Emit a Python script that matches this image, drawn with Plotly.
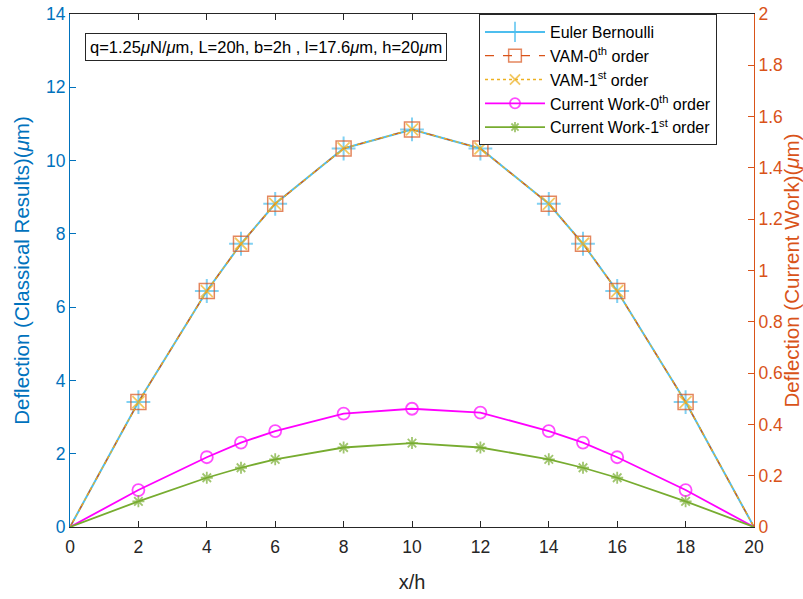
import plotly.graph_objects as go

x_h = [0, 2, 4, 5, 6, 8, 10, 12, 14, 15, 16, 18, 20]
euler = [0, 3.41, 6.44, 7.73, 8.82, 10.33, 10.85, 10.33, 8.82, 7.73, 6.44, 3.41, 0]
vam0 = [0, 3.41, 6.44, 7.73, 8.82, 10.33, 10.85, 10.33, 8.82, 7.73, 6.44, 3.41, 0]
vam1 = [0, 3.41, 6.44, 7.73, 8.82, 10.33, 10.85, 10.33, 8.82, 7.73, 6.44, 3.41, 0]
cw0 = [0, 0.144, 0.272, 0.329, 0.374, 0.442, 0.461, 0.446, 0.374, 0.329, 0.272, 0.144, 0]
cw1 = [0, 0.100, 0.192, 0.231, 0.264, 0.310, 0.327, 0.310, 0.264, 0.231, 0.192, 0.100, 0]

names = ["Euler Bernoulli", "VAM-0<sup>th</sup> order", "VAM-1<sup>st</sup> order",
         "Current Work-0<sup>th</sup> order", "Current Work-1<sup>st</sup> order"]

BLUE_L = "#4DBEEE"
ORANGE = "#D95319"
YELLOW = "#EDB120"
MAGENTA = "#FF00FF"
GREEN = "#77AC30"
AXBLUE = "#0072BD"
DARK = "#262626"
FONT = "Liberation Sans, Arial, sans-serif"


def sizes(s):
    # markers are not drawn at the two supported ends
    return [0] + [s] * (len(x_h) - 2) + [0]


fig = go.Figure()
fig.add_trace(go.Scatter(x=x_h, y=euler, name=names[0], mode="lines+markers", legendgroup="a",
                         line=dict(color=BLUE_L, width=2),
                         marker=dict(symbol="cross-thin", size=sizes(17), line=dict(color=BLUE_L, width=2))))
fig.add_trace(go.Scatter(x=x_h, y=vam0, name=names[1], mode="lines+markers", legendgroup="b",
                         line=dict(color=ORANGE, width=1.3, dash="dash"),
                         marker=dict(symbol="square-open", size=sizes(15), color=ORANGE, line=dict(width=1.5))))
fig.add_trace(go.Scatter(x=x_h, y=vam1, name=names[2], mode="lines+markers", legendgroup="c",
                         line=dict(color=YELLOW, width=1.3, dash="dot"),
                         marker=dict(symbol="x-thin", size=sizes(12), line=dict(color=YELLOW, width=1.8))))
fig.add_trace(go.Scatter(x=x_h, y=cw0, name=names[3], mode="lines+markers", yaxis="y2", legendgroup="d",
                         line=dict(color=MAGENTA, width=1.8),
                         marker=dict(symbol="circle-open", size=sizes(12), color=MAGENTA, line=dict(width=1.8))))
fig.add_trace(go.Scatter(x=x_h, y=cw1, name=names[4], mode="lines+markers", yaxis="y2", legendgroup="e",
                         line=dict(color=GREEN, width=1.8),
                         marker=dict(symbol="asterisk-open", size=sizes(10), color=GREEN, line=dict(color=GREEN, width=1.8))))

fig.update_layout(
    width=803, height=599,
    margin=dict(l=70, r=49, t=14, b=72),
    paper_bgcolor="white", plot_bgcolor="white",
    font=dict(family=FONT, size=17, color=DARK),
    showlegend=True,
    legend=dict(x=0.9459, y=1.0, xanchor="right", yanchor="top",
                bgcolor="white", bordercolor=DARK, borderwidth=1,
                font=dict(size=16, color="black", family=FONT),
                tracegroupgap=0, itemwidth=60),
    xaxis=dict(range=[0, 20], tickvals=list(range(0, 21, 2)), showline=True, linecolor=DARK,
               linewidth=1, mirror="ticks", ticks="inside", ticklen=6, tickcolor=DARK,
               showgrid=False, zeroline=False, automargin=False, ticklabelstandoff=4,
               title=dict(text="x/h", standoff=18, font=dict(size=20, color=DARK)),
               tickfont=dict(color=DARK, size=17.5)),
    yaxis=dict(range=[0, 14], tickvals=list(range(0, 15, 2)), showline=True, linecolor=AXBLUE,
               linewidth=1, ticks="inside", ticklen=6, tickcolor=AXBLUE, showgrid=False,
               zeroline=False, automargin=False, tickfont=dict(color=AXBLUE, size=17.5),
               title=dict(text="Deflection (Classical Results)(<i>μ</i>m)", font=dict(color=AXBLUE, size=20.5), standoff=10)),
    yaxis2=dict(range=[0, 2], tickvals=[0, 0.2, 0.4, 0.6, 0.8, 1, 1.2, 1.4, 1.6, 1.8, 2],
                ticktext=["0", "0.2", "0.4", "0.6", "0.8", "1", "1.2", "1.4", "1.6", "1.8", "2"],
                overlaying="y", side="right", showline=True, linecolor=ORANGE, linewidth=1,
                ticks="inside", ticklen=6, tickcolor=ORANGE, showgrid=False, zeroline=False,
                automargin=False, tickfont=dict(color=ORANGE, size=17.5),
                title=dict(text="Deflection (Current Work)(<i>μ</i>m)", font=dict(color=ORANGE, size=20.5), standoff=4)),
    annotations=[dict(text="q=1.25<i>μ</i>N/<i>μ</i>m, L=20h, b=2h , l=17.6<i>μ</i>m, h=20<i>μ</i>m",
                      xref="paper", yref="paper", x=(85 - 70) / 684, y=(527 - 33) / 513,
                      xanchor="left", yanchor="top", showarrow=False, align="left",
                      font=dict(size=16.5, color="black", family=FONT),
                      bgcolor="white", bordercolor=DARK, borderwidth=1, borderpad=4)],
)

fig.write_html("out.html")
